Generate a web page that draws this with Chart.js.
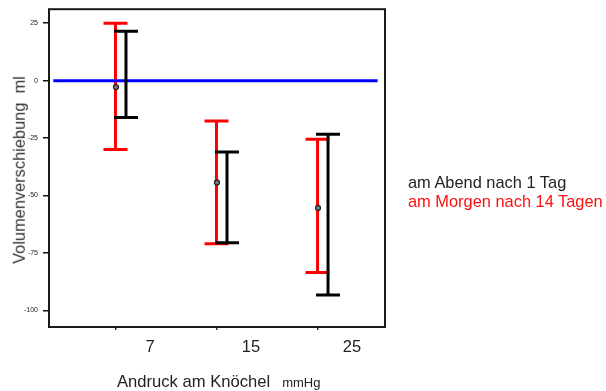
<!DOCTYPE html>
<html>
<head>
<meta charset="utf-8">
<script src="https://cdn.jsdelivr.net/npm/chart.js@4.4.0/dist/chart.umd.min.js"></script>
<style>
    body { margin: 0; background: #fff; font-family: "Liberation Sans", Arial, sans-serif; }
    #wrap { position: relative; width: 606px; height: 391px; }
    #chart { position: absolute; left: 0; top: 0; }
    .txt { position: absolute; white-space: nowrap; line-height: 1; color: #222; }
    #legend { left: 408px; top: 173px; font-size: 16.4px; line-height: 19px; }
    #legend .red { color: #ff1010; }
    #xtitle { left: 117px; top: 374px; font-size: 16.6px; }
    #xtitle small { font-size: 13px; margin-left: 12px; }
    #ytitle { left: 19px; top: 170px; font-size: 16.4px; color: #333; transform: translate(-50%, -50%) rotate(-90deg); }
</style>
</head>
<body>
<div id="wrap">
    <canvas id="chart" width="606" height="391"></canvas>
    <div id="legend" class="txt">
        <div>am Abend nach 1 Tag</div>
        <div class="red">am Morgen nach 14 Tagen</div>
    </div>
    <div id="xtitle" class="txt">Andruck am Knöchel<small>mmHg</small></div>
    <div id="ytitle" class="txt">Volumenverschiebung&nbsp; ml</div>
</div>
<script>
const groups = ["7", "15", "25"];
const yTicks = [25, 0, -25, -50, -75, -100];

// am Morgen nach 14 Tagen (red)
const morgenHigh = [25, -17.5, -25.5];
const morgenLow = [-30, -71, -83.5];
const morgenMean = [-2.8, -44.3, -55.4];

// am Abend nach 1 Tag (black)
const abendHigh = [21.5, -31, -23.3];
const abendLow = [-16, -70.5, -93.3];

// blue reference line at 0
const zeroLineX = [-0.62, 2.59];
const zeroLineY = [0, 0];

function drawBars(chart, highs, lows, color, shift) {
    const { ctx, scales: { x, y } } = chart;
    ctx.save();
    ctx.strokeStyle = color;
    ctx.lineWidth = 3;
    highs.forEach((h, i) => {
        const px = x.getPixelForValue(i) + shift;
        const top = y.getPixelForValue(h);
        const bot = y.getPixelForValue(lows[i]);
        ctx.beginPath();
        ctx.moveTo(px, top); ctx.lineTo(px, bot);
        ctx.moveTo(px - 12, top); ctx.lineTo(px + 12, top);
        ctx.moveTo(px - 12, bot); ctx.lineTo(px + 12, bot);
        ctx.stroke();
    });
    ctx.restore();
}

const errorBars = {
    id: "errorBars",
    beforeDatasetsDraw(chart) {
        drawBars(chart, morgenHigh, morgenLow, "#ff0000", -0.5);
    },
    afterDatasetDraw(chart, args) {
        if (args.index === 1) drawBars(chart, abendHigh, abendLow, "#000000", 10);
    }
};

const frame = {
    id: "frame",
    afterDraw(chart) {
        const { ctx, chartArea: a } = chart;
        ctx.save();
        ctx.strokeStyle = "#1a1a1a";
        ctx.lineWidth = 2;
        ctx.strokeRect(a.left, a.top, a.right - a.left, a.bottom - a.top);
        ctx.restore();
    }
};

new Chart(document.getElementById("chart").getContext("2d"), {
    type: "scatter",
    data: {
        datasets: [
            {
                data: morgenMean.map((v, i) => ({ x: i, y: v })),
                pointRadius: 2.5,
                pointBorderWidth: 1.2,
                pointBorderColor: "#222",
                pointBackgroundColor: "#777"
            },
            {
                type: "line",
                data: zeroLineX.map((v, i) => ({ x: v, y: zeroLineY[i] })),
                borderColor: "#0000ff",
                borderWidth: 3,
                pointRadius: 0
            }
        ]
    },
    options: {
        responsive: false,
        animation: false,
        layout: { padding: { left: 0, top: 9, right: 221, bottom: 0 } },
        plugins: { legend: { display: false }, tooltip: { enabled: false } },
        scales: {
            x: {
                type: "linear",
                min: -0.663,
                max: 2.663,
                afterBuildTicks: s => { s.ticks = groups.map((g, i) => ({ value: i })); },
                afterFit: s => { s.height = 64; },
                border: { display: false },
                grid: { drawOnChartArea: false, tickLength: 3, color: "#333", lineWidth: 1.5 },
                ticks: {
                    callback: v => groups[v],
                    labelOffset: 34,
                    padding: 8,
                    color: "#222",
                    maxRotation: 0,
                    font: { family: "Liberation Sans", size: 16.5 }
                }
            },
            y: {
                min: -107.2,
                max: 31.1,
                afterBuildTicks: s => { s.ticks = yTicks.map(v => ({ value: v })); },
                afterFit: s => { s.width = 49; },
                border: { display: false },
                grid: { drawOnChartArea: false, tickLength: 6, color: "#111", lineWidth: 1.5 },
                ticks: {
                    padding: 5,
                    color: "#222",
                    font: { family: "Liberation Sans", size: 7 }
                }
            }
        }
    },
    plugins: [errorBars, frame]
});
</script>
</body>
</html>
